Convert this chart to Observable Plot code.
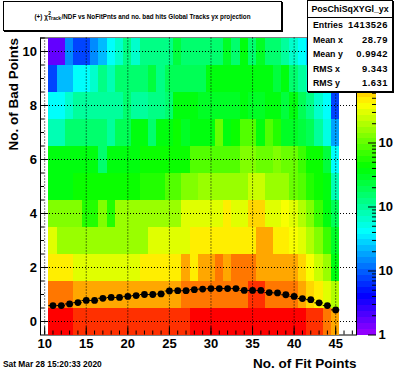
<!DOCTYPE html>
<html><head><meta charset="utf-8">
<script src="https://cdn.jsdelivr.net/npm/d3@7"></script>
<script src="https://cdn.jsdelivr.net/npm/@observablehq/plot@0.6"></script>
<style>
body{margin:0;background:#fff;}
#wrap{position:relative;width:396px;height:372px;overflow:hidden;background:#fff;font-family:"Liberation Sans",Arial,sans-serif;font-weight:bold;color:#000;}
#wrap svg{position:absolute;top:0;overflow:visible;}
.box{position:absolute;background:#fff;border:1px solid #000;box-sizing:border-box;box-shadow:1px 1px 0 #000;}
#title{left:3px;top:1px;width:279px;height:30px;display:flex;align-items:center;justify-content:center;font-size:6.3px;white-space:nowrap;}
.stk{display:inline-block;vertical-align:middle;line-height:1.05;font-size:4.9px;text-align:left;margin:0 0.5px;}
.stk span{display:block;}
#stats{left:307px;top:0px;width:86px;height:92px;font-size:8.8px;}
#stats .hd{height:17px;border-bottom:1px solid #000;box-sizing:border-box;text-align:center;line-height:17px;font-size:8.8px;}
#stats .r{position:absolute;left:5px;right:4px;height:14px;line-height:14px;}
#stats .r b{position:absolute;right:0;top:0;font-size:9.4px;letter-spacing:0.5px;}
#date{position:absolute;left:3px;top:359px;font-size:8.4px;white-space:nowrap;}
</style></head><body><div id="wrap"></div>
<script>
// ---- data ----
const xBins = [11,12,13,14,15,16,17,18,19,20,21,22,23,24,25,26,27,28,29,30,31,32,33,34,35,36,37,38,39,40,41,42,43,44,45];
const yBins = [0,1,2,3,4,5,6,7,8,9,10];
// counts per x bin, one array per "No. of Bad Points" row
const row0 = [39200,39200,39200,25600,25600,25600,25600,25600,25600,25600,25600,25600,25600,25600,25600,25600,25600,39200,39200,39200,39200,39200,39200,39200,39200,39200,39200,39200,39200,39200,39200,25600,25600,13500,8790];
const row1 = [13500,13500,13500,8790,8790,8790,8790,8790,8790,8790,8790,8790,8790,8790,8790,8790,13500,13500,13500,13500,13500,13500,13500,13500,25600,25600,13500,13500,13500,13500,8790,5730,4630,3020,1970];
const row2 = [4630,4630,4630,3020,3020,3020,3020,3020,3020,3020,3020,4630,4630,4630,4630,4630,8790,4630,8790,8790,13500,8790,13500,13500,13500,8790,8790,8790,8790,8790,5730,3740,2440,1590,356];
const row3 = [3020,1590,1590,1590,1590,1590,1590,1590,1590,1590,1590,1590,3020,3020,3020,3020,3020,4630,4630,4630,4630,4630,4630,4630,4630,8790,8790,4630,4630,3740,3020,1970,1285,677,288];
const row4 = [1285,1285,1285,1285,547,547,1285,547,1590,1590,1590,1590,1590,1590,1590,1590,3020,3020,3020,3020,3020,4630,3020,3020,5730,5730,3020,3020,3740,3020,1970,1285,677,356,188];
const row5 = [356,356,356,441,441,441,441,441,441,441,441,547,547,547,838,838,1285,1285,1590,1590,1590,1590,1590,1590,2440,2440,1590,1590,1590,1040,838,547,441,356,80];
const row6 = [356,356,356,356,356,356,152,356,356,356,356,441,441,441,441,441,441,838,838,838,838,838,838,1285,1285,1040,1040,1285,1040,1040,677,441,441,232,42];
const row7 = [80,80,152,152,152,152,152,99,188,188,356,356,152,356,356,441,288,356,356,356,1040,356,441,838,838,356,838,547,288,288,232,188,99,52,18];
const row8 = [42,42,65,99,99,99,99,99,99,152,99,99,122,122,152,356,356,356,288,288,288,288,288,356,288,288,356,356,232,356,188,122,65,42,7.6];
const row9 = [7.6,22,22,42,42,65,122,80,152,152,152,152,232,122,188,188,188,188,188,356,356,356,356,356,356,356,356,232,356,152,99,65,34,18,7.6];
const row10 = [1.7,1.7,14.5,7.6,7.6,14.5,22,42,65,122,65,122,122,122,122,232,152,152,152,152,152,288,152,356,152,288,152,152,99,65,42,22,14.5,9.4,4];
// profile (mean no. of bad points per x bin)
const profY = [0.59,0.59,0.65,0.70,0.78,0.78,0.86,0.89,0.89,0.93,0.96,1.00,1.00,1.02,1.13,1.14,1.14,1.18,1.20,1.22,1.22,1.22,1.22,1.15,1.15,1.15,1.07,1.06,0.99,0.93,0.85,0.81,0.69,0.59,0.43];
// axis ticks
const xMajor = [10,15,20,25,30,35,40,45];
const xMinor = [10,11,12,13,14,15,16,17,18,19,20,21,22,23,24,25,26,27,28,29,30,31,32,33,34,35,36,37,38,39,40,41,42,43,44,45,46,47];
const yMajor = [0,2,4,6,8,10];
const yMinor = [0,0.5,1,1.5,2,2.5,3,3.5,4,4.5,5,5.5,6,6.5,7,7.5,8,8.5,9,9.5,10,10.5];
const zMajor = [1,10,100,1000,10000];
const zMinor = [2,3,4,5,6,7,8,9,20,30,40,50,60,70,80,90,200,300,400,500,600,700,800,900,2000,3000,4000,5000,6000,7000,8000,9000,20000,30000,40000];
const zLabelAt = [1,10,100,1000];          // the 10^4 label sits under the stats box
const zLabels = ["1","10","10","10"];
const zMin = 1, zMax = 43700, nLevels = 50;

// ---- colour scale (ROOT pretty palette, 50 levels, log z) ----
const logSpan = Math.log10(zMax / zMin);
const thresholds = d3.range(1, nLevels).map(j => zMin * Math.pow(10, j * logSpan / nLevels));
const palette = d3.range(nLevels).map(i => d3.hsl(280 - (i + 1) * 280 / nLevels, 1, 0.5).formatHex());
const colorScale = {type: "threshold", domain: thresholds, range: palette};

const rows = [row0,row1,row2,row3,row4,row5,row6,row7,row8,row9,row10];
const cells = rows.flatMap((vals, yi) => vals.map((v, xi) => ({x: xBins[xi], y: yBins[yi], v})));
const prof = xBins.map((x, i) => ({x, y: profY[i]}));
const half = 0.5;

const W = 396, H = 372, mL = 40, mR = 40, mT = 37.5, mB = 37.5;
const fW = W - mL - mR, fH = H - mT - mB;
const font = '"Liberation Sans", Arial, sans-serif';

const main = Plot.plot({
  width: W, height: H, marginLeft: mL, marginRight: mR, marginTop: mT, marginBottom: mB,
  style: {fontFamily: font, fontSize: "13px", fontWeight: "bold", background: "transparent", color: "black"},
  x: {domain: [9.5, 47.5], ticks: xMajor, tickSize: 0, tickPadding: 4, label: null},
  y: {domain: [-0.5, 10.5], ticks: yMajor, tickSize: 0, tickPadding: 3.5, label: null},
  color: colorScale,
  marks: [
    Plot.frame({stroke: "black"}),
    Plot.rect(cells, {x1: d => d.x - half, x2: d => d.x + half, y1: d => d.y - half, y2: d => d.y + half, fill: "v", shapeRendering: "crispEdges"}),
    Plot.ruleX(xMajor, {stroke: "black", strokeDasharray: "1,2"}),
    Plot.ruleY(yMajor, {stroke: "black", strokeDasharray: "1,2"}),
    Plot.tickX(xMinor, {x: d => d, stroke: "black", insetTop: fH - 4}),
    Plot.tickX(xMajor, {x: d => d, stroke: "black", insetTop: fH - 8}),
    Plot.tickY(yMinor, {y: d => d, stroke: "black", insetRight: fW - 4}),
    Plot.tickY(yMajor, {y: d => d, stroke: "black", insetRight: fW - 8}),
    Plot.ruleY(prof, {y: "y", x1: d => d.x - half, x2: d => d.x + half, stroke: "black", strokeWidth: 1}),
    Plot.dot(prof, {x: "x", y: "y", r: 3.4, fill: "black", stroke: "none"}),
    Plot.text(["No. of Fit Points"], {text: d => d, frameAnchor: "bottom-right", dy: 28.5, textAnchor: "end", lineAnchor: "middle", fontSize: 13.5, fontWeight: "bold"}),
    Plot.text(["No. of Bad Points"], {text: d => d, frameAnchor: "top-left", dx: -26.5, rotate: -90, textAnchor: "end", lineAnchor: "middle", fontSize: 13.5, fontWeight: "bold"})
  ]
});

const bands = palette.map((c, i) => ({lo: i === 0 ? zMin : thresholds[i - 1], hi: i === nLevels - 1 ? zMax : thresholds[i]}));
const pal = Plot.plot({
  width: 39, height: H, marginLeft: 0, marginRight: 20, marginTop: mT, marginBottom: mB,
  style: {fontFamily: font, fontSize: "13px", fontWeight: "bold", background: "transparent", color: "black", overflow: "visible"},
  x: {axis: null},
  y: {type: "log", domain: [zMin, zMax], axis: null},
  color: colorScale,
  marks: [
    Plot.rect(bands, {y1: "lo", y2: "hi", fill: d => Math.sqrt(d.lo * d.hi), shapeRendering: "crispEdges"}),
    Plot.tickY(zMinor, {y: d => d, stroke: "black", insetLeft: 19 - 4}),
    Plot.tickY(zMajor, {y: d => d, stroke: "black", insetLeft: 19 - 8}),
    Plot.text(zLabelAt, {y: d => d, text: (d, i) => zLabels[i], frameAnchor: "right", dx: 2, textAnchor: "start", lineAnchor: "middle", fontSize: 13, fontWeight: "bold", fill: "black"})
  ]
});

const wrap = document.getElementById("wrap");
main.style.left = "0px";
pal.style.left = "357px";
wrap.appendChild(main);
wrap.appendChild(pal);

const title = document.createElement("div");
title.className = "box"; title.id = "title";
title.innerHTML = '(+) \u03c7<span class="stk"><span>2</span><span>Track</span></span>/NDF vs NoFitPnts and no. bad hits Global Tracks yx projection';
wrap.appendChild(title);

const statLabels = ["Entries", "Mean x", "Mean y", "RMS x", "RMS y"];
const statValues = ["1413526", "28.79", "0.9942", "9.343", "1.631"];
const stats = document.createElement("div");
stats.className = "box"; stats.id = "stats";
let html = '<div class="hd">PosChiSqXYGl_yx</div>';
statLabels.forEach((l, i) => {
  html += `<div class="r" style="top:${17 + i * 14.5}px">${l}<b>${statValues[i]}</b></div>`;
});
stats.innerHTML = html;
wrap.appendChild(stats);

const date = document.createElement("div");
date.id = "date";
date.textContent = "Sat Mar 28 15:20:33 2020";
wrap.appendChild(date);
</script></body></html>
